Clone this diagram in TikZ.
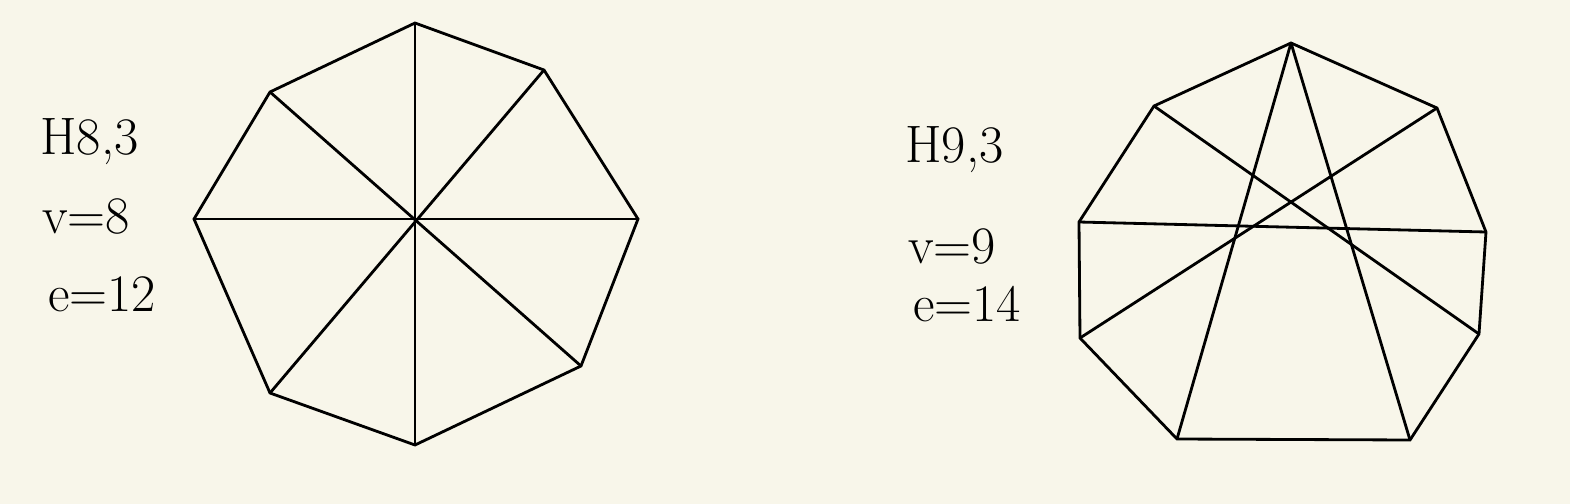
\documentclass[tikz,border=0pt]{standalone}
\usepackage{tikz}
\usetikzlibrary{positioning}
\usepackage{xcolor}
\definecolor{paper}{RGB}{248,246,234}

\begin{document}
\begin{tikzpicture}[
        x=0.02cm, y=-0.02cm,
        edge/.style={line width=1.6pt, line join=miter},
        note/.style={anchor=west, inner sep=0pt, font=\fontsize{30}{36}\selectfont}
    ]
        % Background
        \fill[paper] (0,0) rectangle (1570,504);
        \useasboundingbox (0,0) rectangle (1570,504);

        % Labels: H8,3
        \node[note] (h8) at (40,142) {H8,3};
        \node[note] (v8) at (42,216) {v=8};
        \node[note] (e8) at (48,294) {e=12};

        % Labels: H9,3
        \node[note] (h9) at (905,150) {H9,3};
        \node[note] (v9) at (908,246) {v=9};
        \node[note] (e9) at (913,304) {e=14};

        % Octagon vertices
        \coordinate (a1) at (415,23);
        \coordinate (a2) at (544,70);
        \coordinate (a3) at (638,219);
        \coordinate (a4) at (581,366);
        \coordinate (a5) at (415,445);
        \coordinate (a6) at (270,393);
        \coordinate (a7) at (194,219);
        \coordinate (a8) at (270,92);

        % Nonagon vertices
        \coordinate (b1) at (1291,43);
        \coordinate (b2) at (1437,108);
        \coordinate (b3) at (1486,232);
        \coordinate (b4) at (1479,334);
        \coordinate (b5) at (1410,440);
        \coordinate (b6) at (1177,439);
        \coordinate (b7) at (1080,338);
        \coordinate (b8) at (1079,222);
        \coordinate (b9) at (1154,106);

        % H8,3 edges
        \draw[edge] (a1) -- (a2) -- (a3) -- (a4) -- (a5) -- (a6) -- (a7) -- (a8) -- cycle;
        \draw[edge] (a1) -- (a5);
        \draw[edge] (a2) -- (a6);
        \draw[edge] (a3) -- (a7);
        \draw[edge] (a4) -- (a8);

        % H9,3 edges
        \draw[edge] (b1) -- (b2) -- (b3) -- (b4) -- (b5) -- (b6) -- (b7) -- (b8) -- (b9) -- cycle;
        \draw[edge] (b1) -- (b6);
        \draw[edge] (b1) -- (b5);
        \draw[edge] (b9) -- (b4);
        \draw[edge] (b2) -- (b7);
        \draw[edge] (b8) -- (b3);
    \end{tikzpicture}
\end{document}
